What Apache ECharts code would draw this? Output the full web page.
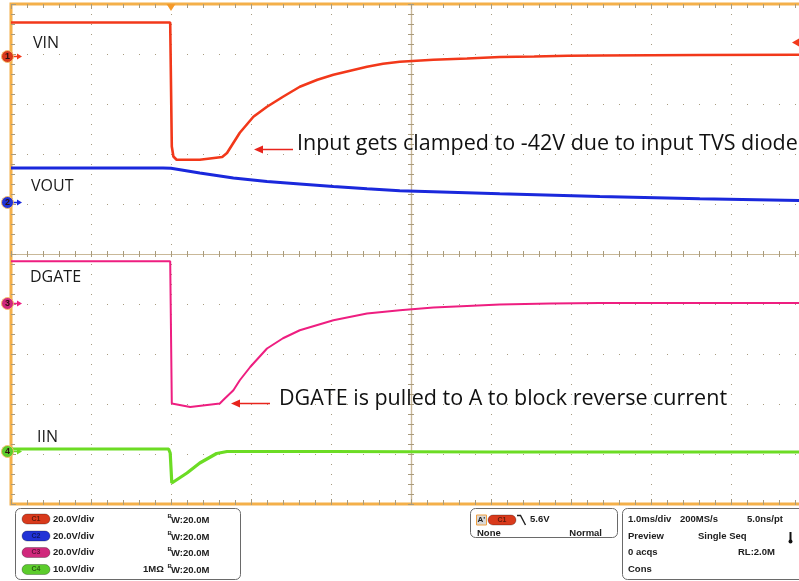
<!DOCTYPE html>
<html>
<head>
<meta charset="utf-8">
<script src="https://cdn.jsdelivr.net/npm/echarts@6/dist/echarts.min.js"></script>
<style>
  html, body { margin: 0; padding: 0; background: #ffffff; }
  #scope { width: 799px; height: 581px; }
</style>
</head>
<body>
<div id="scope"></div>
<script>
// Time in ms relative to the trigger point, values in volts (IIN in amps).
const vinTime  = [-2, -0.01, 0, 0.01, 0.03, 0.07, 0.09, 0.36, 0.64, 0.70, 0.86, 1.03, 1.20, 1.40, 1.61, 1.83, 2.03, 2.24, 2.45, 2.65, 2.86, 3.28, 3.70, 4.11, 4.54, 4.96, 5.38, 6.61, 7.85];
const vinVal   = [13.6, 13.6, 13.2, -36.0, -40.0, -41.3, -41.7, -41.3, -40.2, -38.6, -30.5, -24.1, -20.1, -16.1, -12.1, -9.3, -7.3, -5.7, -4.1, -2.9, -2.1, -1.3, -0.8, -0.2, 0.0, 0.3, 0.4, 0.6, 0.7];

const voutTime = [-2, -0.1, 0, 0.36, 0.78, 1.20, 1.61, 2.03, 2.45, 2.86, 4.11, 5.36, 6.61, 7.85];
const voutVal  = [13.8, 13.8, 13.7, 11.8, 9.8, 8.4, 7.4, 6.4, 5.5, 4.7, 3.5, 2.4, 1.5, 0.8];

const dgateTime = [-2, -0.01, 0.01, 0.24, 0.61, 0.65, 0.78, 0.86, 0.99, 1.20, 1.40, 1.61, 2.03, 2.45, 2.86, 3.28, 3.70, 4.11, 4.74, 5.36, 7.85];
const dgateVal  = [16.9, 16.9, -40.0, -41.4, -40.0, -38.7, -34.7, -30.7, -25.4, -18.0, -13.9, -10.7, -6.7, -4.0, -2.7, -1.6, -1.0, -0.4, 0.0, 0.2, 0.2];

const iinTime  = [-2, -0.03, -0.01, 0.01, 0.03, 0.20, 0.36, 0.57, 0.70, 2, 4, 6, 7.85];
const iinVal   = [0.5, 0.5, -0.3, -6.3, -6.3, -4.3, -2.3, -0.4, 0.0, 0.0, -0.1, -0.1, -0.1];

// Channel names, scales (units per division) and trigger settings
const channelNames = ['VIN', 'VOUT', 'DGATE', 'IIN'];
const channelScale = [20, 20, 20, 10];
const scaleLabels  = ['20.0V/div', '20.0V/div', '20.0V/div', '10.0V/div'];
const triggerLevel = 5.6;

// Display settings: ground position of each channel in divisions from centre
const groundDiv = [3.95, 1.03, -0.99, -3.95];
const traceColor = ['#f2381a', '#1a28dc', '#ee1e80', '#6cdc24'];
const traceWidth = [2.6, 3, 2, 3.2];
const badgeColor = ['#d93a1c', '#2233d6', '#d0287c', '#5ccc2c'];

const tick = '#a89a7c';
const frame = '#f4b04a';

const chart = echarts.init(document.getElementById('scope'), null, { renderer: 'canvas' });

const hiddenParts = {
  axisLabel: { show: false }, splitLine: { show: false },
  axisLine: { show: false }, axisTick: { show: false }, minorTick: { show: false }
};

function edgeTicks(extra) {
  return Object.assign({
    axisLabel: { show: false },
    axisLine: { show: false, onZero: false },
    axisTick: { show: true, inside: true, length: 5, lineStyle: { color: tick, width: 1 } },
    minorTick: { show: true, splitNumber: 5, length: 4, lineStyle: { color: tick, width: 1 } }
  }, extra);
}

function centreLine(inside, zeroIndex) {
  return {
    axisLabel: { show: false }, splitLine: { show: false },
    axisLine: { show: true, onZero: true, onZeroAxisIndex: zeroIndex, lineStyle: { color: '#c9b898', width: 1.2 } },
    axisTick: { show: true, inside: inside, length: 3, lineStyle: { color: tick, width: 1 } },
    minorTick: { show: true, splitNumber: 5, length: 3, lineStyle: { color: tick, width: 1 } }
  };
}

const xAxes = [
  // time axis, 1 ms/div
  edgeTicks({ type: 'value', min: -2, max: 8, interval: 1, position: 'bottom',
    splitLine: { show: true, lineStyle: { color: '#a89c80', width: 1, type: [1, 9] } } }),
  edgeTicks({ type: 'value', min: -2, max: 8, interval: 1, position: 'top', splitLine: { show: false } }),
  // centre graticule line (horizontal), ticks on both sides
  Object.assign({ type: 'value', min: -5, max: 5, interval: 1 }, centreLine(false, 0)),
  Object.assign({ type: 'value', min: -5, max: 5, interval: 1 }, centreLine(true, 0))
];

const yAxes = [
  edgeTicks({ type: 'value', min: -5, max: 5, interval: 1, position: 'left',
    splitLine: { show: true, lineStyle: { color: '#a89c80', width: 1, type: [1, 15] } } }),
  // centre graticule line (vertical)
  Object.assign({ type: 'value', min: -5, max: 5, interval: 1 }, centreLine(false, 2)),
  Object.assign({ type: 'value', min: -5, max: 5, interval: 1 }, centreLine(true, 2))
];

// one hidden value axis per channel, placed by its scale and ground offset
channelScale.forEach(function (s, i) {
  yAxes.push(Object.assign({
    type: 'value', show: false,
    min: (-5 - groundDiv[i]) * s,
    max: (5 - groundDiv[i]) * s
  }, hiddenParts));
});

function pairs(t, v) { return t.map(function (x, i) { return [x, v[i]]; }); }
const traces = [pairs(vinTime, vinVal), pairs(voutTime, voutVal), pairs(dgateTime, dgateVal), pairs(iinTime, iinVal)];

const series = traces.map(function (d, i) {
  return {
    name: channelNames[i], type: 'line', data: d,
    xAxisIndex: 0, yAxisIndex: 3 + i,
    showSymbol: false, symbol: 'none', clip: true,
    lineStyle: { color: traceColor[i], width: traceWidth[i] },
    z: 5 + i
  };
});

chart.setOption({
  animation: false,
  backgroundColor: '#ffffff',
  // the graticule is 10 divisions wide; its right edge runs past the window
  grid: { left: 11, top: 4, width: 800, height: 500, show: true, outerBoundsMode: 'none',
          borderColor: frame, borderWidth: 3, backgroundColor: '#ffffff' },
  xAxis: xAxes,
  yAxis: yAxes,
  series: series
});

// ---- overlay: channel markers, trigger markers, labels, status panel ----
const g = [];
const labelFont = '16px "Open Sans", sans-serif';
const noteFont = '21.5px "Open Sans", sans-serif';
const panelFont = 'bold 9.5px "Liberation Sans", Arial, sans-serif';

channelNames.forEach(function (n, i) {
  const y = chart.convertToPixel({ yAxisIndex: 3 + i }, 0);
  g.push({ type: 'line', shape: { x1: 13, y1: y, x2: 19, y2: y }, style: { stroke: traceColor[i], lineWidth: 1.5 }, z: 30 });
  g.push({ type: 'polygon', shape: { points: [[17, y - 3], [22, y], [17, y + 3]] }, style: { fill: traceColor[i] }, z: 30 });
  g.push({ type: 'circle', shape: { cx: 7.5, cy: y, r: 6 }, style: { fill: badgeColor[i], stroke: '#f6c070', lineWidth: 1 }, z: 31 });
  g.push({ type: 'text', style: { text: String(i + 1), x: 7.5, y: y, align: 'center', verticalAlign: 'middle',
    font: 'bold 9px "Liberation Sans", Arial, sans-serif', fill: '#301010' }, z: 32 });
});

// trigger position (top) and trigger level (right edge)
const tx = chart.convertToPixel({ xAxisIndex: 0 }, 0);
g.push({ type: 'polygon', shape: { points: [[tx - 4.5, 4], [tx + 4.5, 4], [tx, 11]] }, style: { fill: '#f59a2a' }, z: 30 });
const ty = chart.convertToPixel({ yAxisIndex: 3 }, triggerLevel);
g.push({ type: 'polygon', shape: { points: [[799, ty - 4], [799, ty + 4], [792, ty]] }, style: { fill: '#f2381a' }, z: 30 });

// trace names
[['VIN', 33, 43], ['VOUT', 31, 186], ['DGATE', 30, 277.5], ['IIN', 37, 437.5]].forEach(function (l) {
  g.push({ type: 'text', style: { text: l[0], x: l[1], y: l[2], verticalAlign: 'middle', font: labelFont, fill: '#1a1a1a' }, z: 20 });
});

// annotations with arrows
function arrow(x1, x2, y) {
  g.push({ type: 'line', shape: { x1: x1, y1: y, x2: x2 + 6, y2: y }, style: { stroke: '#e8241c', lineWidth: 1.5 }, z: 20 });
  g.push({ type: 'polygon', shape: { points: [[x2, y], [x2 + 9, y - 4], [x2 + 9, y + 4]] }, style: { fill: '#e8241c' }, z: 20 });
}
arrow(293, 254, 149.5);
g.push({ type: 'text', style: { text: 'Input gets clamped to -42V due to input TVS diode', x: 297, y: 144,
  verticalAlign: 'middle', font: noteFont, fill: '#111' }, z: 20 });
arrow(270, 231, 403.5);
g.push({ type: 'text', style: { text: 'DGATE is pulled to A to block reverse current', x: 279, y: 398.5,
  verticalAlign: 'middle', font: noteFont, fill: '#111' }, z: 20 });

// status panel
function box(x, y, w, h) {
  g.push({ type: 'rect', shape: { x: x, y: y, width: w, height: h, r: 5 },
    style: { fill: '#ffffff', stroke: '#6a6a6a', lineWidth: 1 }, z: 20 });
}
function txt(s, x, y, align) {
  g.push({ type: 'text', style: { text: s, x: x, y: y, align: align || 'left', verticalAlign: 'middle',
    font: panelFont, fill: '#202020' }, z: 22 });
}
function badge(label, x, y, color) {
  g.push({ type: 'rect', shape: { x: x, y: y - 5, width: 28, height: 10, r: 5 },
    style: { fill: color, stroke: 'rgba(0,0,0,0.35)', lineWidth: 0.8 }, z: 21 });
  g.push({ type: 'text', style: { text: label, x: x + 14, y: y, align: 'center', verticalAlign: 'middle',
    font: 'bold 7px "Liberation Sans", Arial, sans-serif', fill: 'rgba(0,0,0,0.55)' }, z: 22 });
}

box(15.5, 508.5, 225, 71);
const rowY = [519, 536, 552.5, 569.5];
channelNames.forEach(function (n, i) {
  badge('C' + (i + 1), 22, rowY[i], badgeColor[i]);
  txt(scaleLabels[i], 53, rowY[i]);
  g.push({ type: 'text', style: { text: 'B', x: 167.5, y: rowY[i] - 3, verticalAlign: 'middle',
    font: 'bold 6px "Liberation Sans", Arial, sans-serif', fill: '#202020' }, z: 22 });
  txt('W:20.0M', 171, rowY[i] + 1);
});
txt('1M\u03A9', 143, rowY[3]);

box(470.5, 508.5, 147, 29);
g.push({ type: 'rect', shape: { x: 476.5, y: 515, width: 10, height: 10 }, style: { fill: '#d8d8d8', stroke: '#f0a040', lineWidth: 1 }, z: 21 });
g.push({ type: 'text', style: { text: "A'", x: 477.5, y: 520, verticalAlign: 'middle',
  font: 'bold 8px "Liberation Sans", Arial, sans-serif', fill: '#202020' }, z: 22 });
badge('C1', 488, 520, badgeColor[0]);
g.push({ type: 'polyline', shape: { points: [[517, 515.5], [520.5, 515.5], [525.5, 525]] }, style: { stroke: '#202020', lineWidth: 1.4, fill: null }, z: 22 });
txt(triggerLevel.toFixed(1) + 'V', 530, 519.5);
txt('None', 477, 533);
txt('Normal', 602, 533, 'right');

box(622.5, 508.5, 190, 71);
txt('1.0ms/div', 628, 519);
txt('200MS/s', 680, 519);
txt('5.0ns/pt', 747, 519);
txt('Preview', 628, 536);
txt('Single Seq', 698, 536);
g.push({ type: 'line', shape: { x1: 790.5, y1: 532, x2: 790.5, y2: 541 }, style: { stroke: '#111', lineWidth: 2 }, z: 22 });
g.push({ type: 'circle', shape: { cx: 790.5, cy: 541.5, r: 2 }, style: { fill: '#111' }, z: 22 });
txt('0 acqs', 628, 552.5);
txt('RL:2.0M', 738, 552.5);
txt('Cons', 628, 569.5);

chart.setOption({ graphic: g });
</script>
</body>
</html>
